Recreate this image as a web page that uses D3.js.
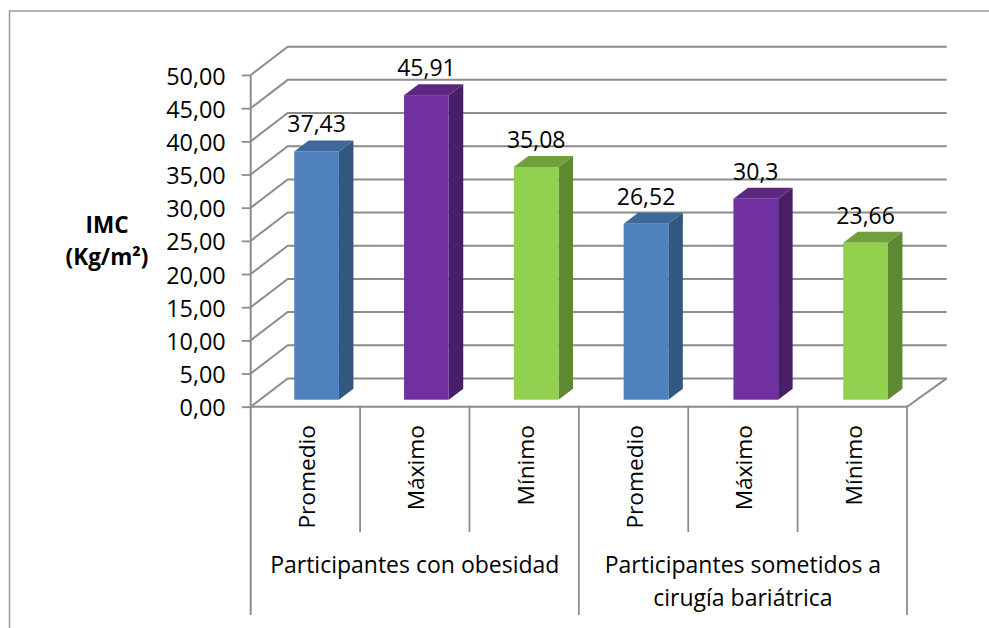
<!DOCTYPE html>
<html>
  <head>
    <meta charset="utf-8">
    <title>IMC</title>
    <style>
      body {
        margin: 0;
        background: #fff;
      }
      svg {
        display: block;
      }
      text {
        font-family: 'Open Sans', sans-serif;
        fill: #000;
      }
      .tick line, .tick-line {
        stroke: #8c8c8c;
        stroke-width: 1.8;
      }
      path.domain {
        stroke: none;
      }
      .tick text {
        font-size: 23.4px;
        font-family: 'Open Sans', sans-serif;
      }
      .grid {
        fill: none;
        stroke: #8c8c8c;
        stroke-width: 2;
      }
      .value {
        font-size: 23px;
        text-anchor: middle;
      }
      .cat {
        font-size: 22.7px;
        text-anchor: end;
      }
      .group {
        font-size: 23px;
        text-anchor: middle;
      }
      .ytitle {
        font-size: 22.5px;
        font-weight: bold;
        text-anchor: middle;
      }
    </style>
  </head>
  <body>
    <svg width="989" height="628"></svg>
    <script src="https://d3js.org/d3.v7.min.js"></script>
    <script>
      const categories = ['Promedio', 'Máximo', 'Mínimo', 'Promedio', 'Máximo', 'Mínimo'];
      const values = [37.43, 45.91, 35.08, 26.52, 30.3, 23.66];
      const valueLabels = ['37,43', '45,91', '35,08', '26,52', '30,3', '23,66'];
      const groups = [
        ['Participantes con obesidad'],
        ['Participantes sometidos a', 'cirugía bariátrica']
      ];
      const yTicks = [0, 5, 10, 15, 20, 25, 30, 35, 40, 45, 50];
      const yTitle = ['IMC', '(Kg/m²)'];
      const fronts = ['#4f81bd', '#7030a0', '#92d050'];
      const sides = ['#33587f', '#481f66', '#5f8832'];
      const tops = ['#3f6798', '#5c2781', '#70a03c'];

      const svg = d3.select('svg');

      // projected depth of the wall and of the bars
      const wallDx = 37, wallDy = -28.3;
      const barDx = 14.5, barDy = -11;
      const barShiftX = 11, barShiftY = -7;

      // front edge of the floor, used for labels and separators
      const x = d3.scaleBand()
        .domain(d3.range(categories.length))
        .range([250.7, 907]);
      // bars sit further back so their spacing is a bit wider
      const xBar = d3.scaleBand()
        .domain(d3.range(categories.length))
        .range([250.7, 909.5])
        .paddingInner(0.593)
        .paddingOuter(0.2965);
      const y = d3.scaleLinear()
        .domain([0, 50])
        .range([406.7, 75]);

      const comma = d3.formatLocale({
        decimal: ',', thousands: '.', grouping: [3], currency: ['', '']
      }).format('.2f');

      // outer frame, runs off the page on the right and at the bottom
      svg.append('path')
        .attr('d', 'M9.5,628V11H989')
        .attr('fill', 'none')
        .attr('stroke', '#9a9a9a')
        .attr('stroke-width', 1.5);

      // wall gridlines: diagonal on the side wall then flat along the back
      svg.append('g').selectAll('path')
        .data(yTicks)
        .enter().append('path')
          .attr('class', 'grid')
          .attr('d', d => `M250.7,${y(d)}l${wallDx},${wallDy}H946.7`);

      // floor
      svg.append('path')
        .attr('class', 'grid')
        .attr('d', `M250.7,${y(0)}H907l${wallDx + 2.7},${wallDy}`);

      svg.append('path')
        .attr('class', 'grid')
        .attr('d', `M250.7,${y(50)}V615`);

      // y axis
      svg.append('g')
        .attr('transform', 'translate(250.7,0)')
        .call(d3.axisLeft(y).tickValues(yTicks).tickFormat(comma).tickSize(9).tickPadding(16))
        .selectAll('.tick text')
          .attr('dy', '0.39em');

      // category separators
      const step = x.step();
      svg.append('g').selectAll('line')
        .data(d3.range(1, categories.length + 1))
        .enter().append('line')
          .attr('class', 'tick-line')
          .attr('x1', i => 250.7 + step * i)
          .attr('x2', i => 250.7 + step * i)
          .attr('y1', y(0) - 1)
          .attr('y2', i => i % 3 === 0 ? 615 : 532);

      // bars
      const bars = svg.append('g').selectAll('g')
        .data(values)
        .enter().append('g')
          .attr('transform', (d, i) => `translate(${xBar(i) + barShiftX},${barShiftY})`);

      const w = xBar.bandwidth();

      bars.append('path')
        .attr('fill', (d, i) => sides[i % 3])
        .attr('d', d => `M${w},${y(d)}l${barDx},${barDy}V${y(0) + barDy}l${-barDx},${-barDy}Z`);
      bars.append('path')
        .attr('fill', (d, i) => tops[i % 3])
        .attr('d', d => `M0,${y(d)}l${barDx},${barDy}h${w}l${-barDx},${-barDy}Z`);
      bars.append('rect')
        .attr('width', w)
        .attr('y', d => y(d))
        .attr('height', d => y(0) - y(d))
        .attr('fill', (d, i) => fronts[i % 3]);

      bars.append('text')
        .attr('class', 'value')
        .attr('x', w / 2)
        .attr('y', d => y(d) - 19)
        .text((d, i) => valueLabels[i]);

      // rotated category labels
      svg.append('g').selectAll('text')
        .data(categories)
        .enter().append('text')
          .attr('class', 'cat')
          .attr('transform', (d, i) => `translate(${x(i) + x.bandwidth() / 2 + 9.5},425) rotate(-90)`)
          .text(d => d);

      // group labels
      groups.forEach((lines, g) => {
        const cx = 250.7 + step * (3 * g + 1.5);
        lines.forEach((line, n) => {
          svg.append('text')
            .attr('class', 'group')
            .attr('x', cx)
            .attr('y', 573 + n * 33)
            .text(line);
        });
      });

      yTitle.forEach((line, n) => {
        svg.append('text')
          .attr('class', 'ytitle')
          .attr('x', 107)
          .attr('y', 233 + n * 32)
          .text(line);
      });
    </script>
  </body>
</html>
